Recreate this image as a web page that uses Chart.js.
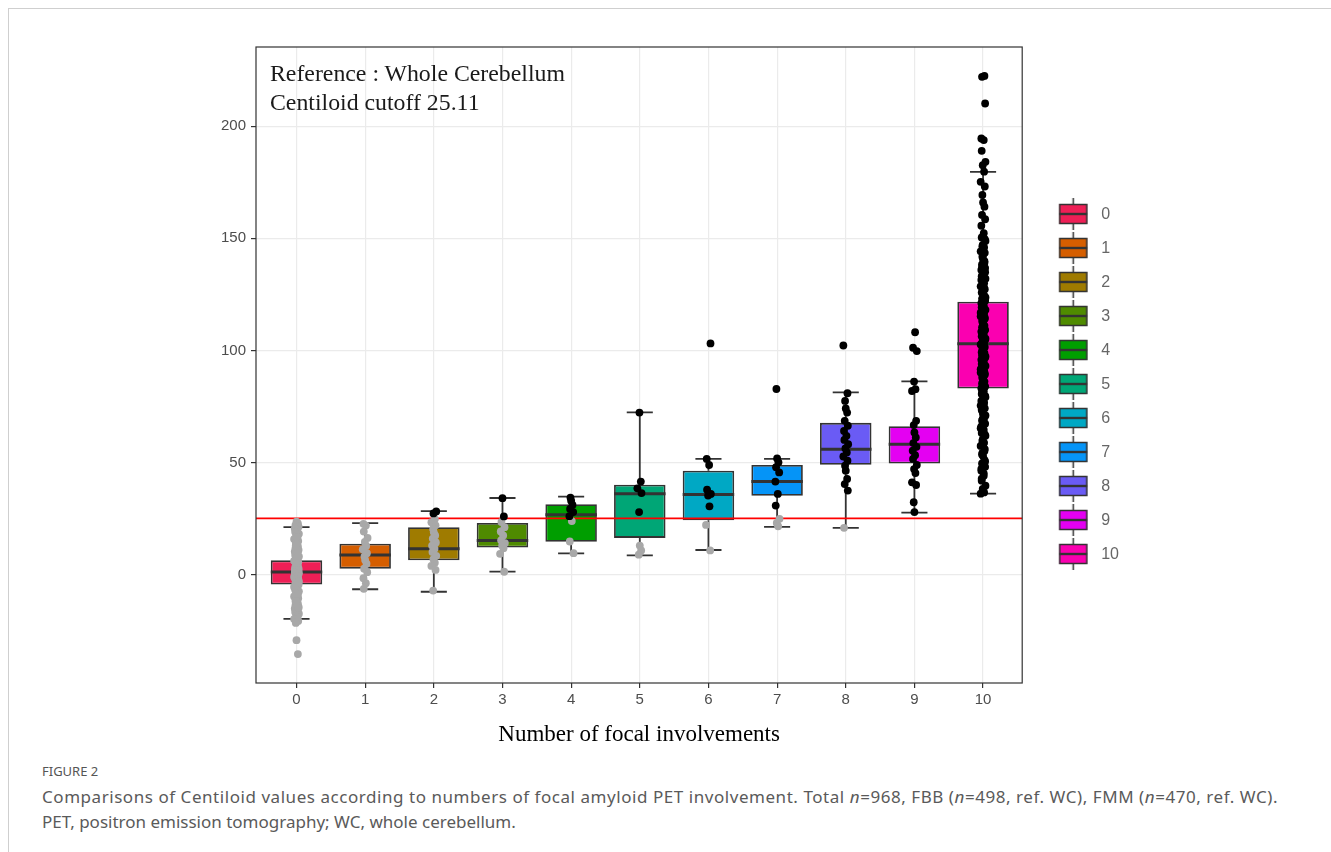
<!DOCTYPE html>
<html>
<head>
<meta charset="utf-8">
<script src="https://cdn.jsdelivr.net/npm/chart.js@4.4.1/dist/chart.umd.min.js"></script>
<style>
  html, body { margin: 0; padding: 0; background: #fff; }
  body { width: 1331px; height: 852px; position: relative; overflow: hidden; font-family: 'Noto Sans', sans-serif; }
  #frame { position: absolute; left: 8px; top: 8px; right: 0; bottom: 0; border-left: 1px solid #cfcfcf; border-top: 1px solid #cfcfcf; }
  #wrap { position: absolute; left: 0; top: 0; width: 1331px; height: 760px; }
  #note { position: absolute; left: 270px; top: 59px; font-family: 'Liberation Serif', serif; font-size: 23.8px; line-height: 29px; color: #1a1a1a; white-space: nowrap; }
  #figlabel { position: absolute; left: 42px; top: 763px; font-size: 13px; line-height: 16px; color: #555; }
  .cap { position: absolute; left: 42px; font-size: 17px; line-height: 25px; color: #5a5a5a; white-space: nowrap; }
</style>
</head>
<body>
<div id="frame"></div>
<div id="wrap"><canvas id="boxChart"></canvas></div>
<div id="note">Reference : Whole Cerebellum<br>Centiloid cutoff 25.11</div>
<div id="figlabel">FIGURE 2</div>
<div class="cap" id="cap1" style="top:784px">Comparisons of Centiloid values according to numbers of focal amyloid PET involvement. Total <i>n</i>=968, FBB (<i>n</i>=498, ref. WC), FMM (<i>n</i>=470, ref. WC).</div>
<div class="cap" id="cap2" style="top:809px">PET, positron emission tomography; WC, whole cerebellum.</div>
<script>
// categories and box statistics
const CATS = [0, 1, 2, 3, 4, 5, 6, 7, 8, 9, 10];
const COLORS = ['#EE1F56', '#D55E00', '#9F7B00', '#4F8B00', '#009E00', '#00A676',
                '#00A8C4', '#0594F7', '#6A5BF5', '#E400F2', '#FA00B0'];
const Q1 = [-4.4, 2.7, 6.4, 12.1, 14.7, 16.4, 24.3, 35.2, 49.0, 49.6, 83.0];
const MEDIAN = [1.2, 8.8, 11.6, 15.2, 26.7, 36.1, 35.7, 41.6, 55.9, 58.2, 103.0];
const Q3 = [6.4, 13.8, 21.2, 23.1, 31.4, 40.1, 46.4, 48.9, 67.7, 66.2, 121.7];
const WHISK_LO = [-19.7, -6.5, -7.6, 1.4, 9.5, 8.6, 11.0, 21.3, 20.9, 27.7, 36.1];
const WHISK_HI = [21.2, 23.0, 28.3, 34.2, 34.8, 72.4, 51.6, 51.6, 81.3, 86.2, 179.6];
const CUTOFF = 25.11;
const Y_TICKS = [0, 50, 100, 150, 200];

// individual Centiloid values per group
const PTS_0 = [23.6, 22.9, 22.1, 21.4, 20.6, 19.8, 19.1, 18.2, 17.4, 16.5, 15.9, 15.0, 14.2, 13.5, 12.7,
  11.8, 11.1, 10.3, 9.6, 8.8, 8.1, 7.4, 6.9, 6.2, 5.6, 5.0, 4.5, 3.9, 3.3, 2.8, 2.2, 1.7, 1.2, 0.6, 0.1,
  -0.4, -1.0, -1.6, -2.1, -2.7, -3.3, -3.9, -4.5, -5.2, -5.9, -6.7, -7.4, -8.2, -9.0, -9.7, -10.5, -11.3,
  -12.0, -12.8, -13.6, -14.3, -15.1, -15.9, -16.6, -17.4, -18.3, -19.1, -19.8, -20.6, -21.5, -29.2, -35.4,
  3.6, 1.9, 0.9, -0.7, -1.9, -3.0, 5.3, 7.8, -5.5, 10.7, 13.1, 16.9, -8.6, -11.7, -14.9];
const PTS_1 = [22.7, 21.9, 19.2, 16.4, 14.6, 12.8, 11.3, 9.6, 8.1, 6.5, 4.9, 2.7, 1.1, -1.6, -3.8, -6.3];
const PTS_2 = [28.2, 27.3, 24.8, 23.4, 22.0, 20.4, 18.9, 17.5, 16.1, 14.4, 13.0, 11.6, 10.1, 8.4, 6.9, 5.3, 3.9, 2.1, -7.1];
const PTS_3 = [34.1, 26.0, 23.5, 21.2, 19.3, 17.5, 15.3, 14.1, 13.0, 11.8, 9.3, 1.3];
const PTS_4 = [34.4, 33.0, 31.1, 29.3, 27.9, 26.1, 23.9, 14.8, 9.6];
const PTS_5 = [72.3, 41.5, 38.5, 36.4, 27.9, 13.0, 10.8, 8.9];
const PTS_6 = [103.1, 51.6, 48.9, 37.9, 36.0, 35.3, 30.5, 22.2, 10.8];
const PTS_7 = [82.8, 51.8, 50.1, 47.9, 45.6, 41.5, 36.0, 30.8, 24.9, 23.1, 21.6];
const PTS_8 = [102.2, 80.9, 77.5, 74.1, 72.3, 68.6, 66.4, 64.1, 61.9, 60.1, 58.2, 56.3, 54.5, 52.7, 50.8,
  48.6, 46.4, 42.7, 40.4, 37.5, 20.9];
const PTS_9 = [108.1, 101.2, 99.7, 86.1, 82.7, 81.9, 68.6, 66.7, 63.4, 61.2, 58.7, 57.0, 55.3, 53.3, 51.6,
  48.9, 47.1, 45.3, 41.2, 40.0, 32.3, 27.9];
const PTS_10 = [222.4, 222.0, 210.1, 194.5, 193.8, 189.0, 184.1, 182.6, 179.7, 175.2, 173.1, 169.3, 166.0,
  164.1, 160.4, 158.5, 155.6, 152.3, 150.4, 148.8, 147.1, 145.9, 144.2, 143.5, 141.8, 140.6, 139.1, 138.4,
  136.7, 135.9, 134.2, 133.1, 132.0, 130.8, 129.9, 128.6, 127.3, 126.5, 125.1, 124.3, 123.0, 122.2, 121.1,
  120.0, 119.2, 118.1, 117.0, 116.3, 115.2, 114.1, 113.3, 112.2, 111.0, 110.3, 109.2, 108.4, 107.1, 106.3,
  105.2, 104.4, 103.3, 102.6, 101.5, 100.7, 99.6, 98.8, 97.7, 96.9, 95.8, 95.0, 93.9, 93.1, 92.0, 91.1,
  90.2, 89.1, 88.3, 87.2, 86.1, 85.3, 84.0, 83.1, 81.8, 80.6, 79.2, 78.1, 76.8, 75.4, 74.2, 72.9, 71.5,
  70.2, 68.8, 67.3, 66.1, 64.6, 63.2, 61.9, 60.3, 58.8, 57.4, 56.0, 54.3, 52.9, 51.2, 49.6, 48.1, 46.3,
  44.1, 41.9, 39.7, 38.2, 36.7, 36.1,
  149.6, 146.4, 142.7, 139.8, 137.2, 134.9, 131.4, 128.2, 125.8, 123.6, 120.5, 118.6, 116.8, 114.6, 112.8,
  110.7, 108.9, 106.8, 104.9, 102.9, 101.1, 99.2, 97.3, 95.5, 93.5, 91.6, 89.7, 87.7, 85.7, 83.6, 81.2,
  79.7, 77.5, 75.9, 73.6, 71.0, 69.5, 67.8, 65.3, 62.6, 59.6, 57.9, 55.1, 53.6, 50.5, 47.2, 45.2, 42.8];
const POINTS = [PTS_0, PTS_1, PTS_2, PTS_3, PTS_4, PTS_5, PTS_6, PTS_7, PTS_8, PTS_9, PTS_10];

// fixed horizontal spread pattern for the dots, in category units
const JITTER = [0, 0.02, -0.015, 0.03, -0.025, 0.01, -0.02, 0.035, -0.005, 0.015, -0.035, 0.025, -0.01];
const CAP = 0.19;     // half width of whisker caps
const HALF_BOX = 0.375;

// build segment data
const whiskerData = [];
const medianData = [];
CATS.forEach((c, i) => {
    whiskerData.push({x: c, y: Q3[i]}, {x: c, y: WHISK_HI[i]}, {x: c, y: null});
    whiskerData.push({x: c, y: Q1[i]}, {x: c, y: WHISK_LO[i]}, {x: c, y: null});
    whiskerData.push({x: c - CAP, y: WHISK_HI[i]}, {x: c + CAP, y: WHISK_HI[i]}, {x: c, y: null});
    whiskerData.push({x: c - CAP, y: WHISK_LO[i]}, {x: c + CAP, y: WHISK_LO[i]}, {x: c, y: null});
    medianData.push({x: c - HALF_BOX, y: MEDIAN[i]}, {x: c + HALF_BOX, y: MEDIAN[i]}, {x: c, y: null});
});

const abovePts = [];
const belowPts = [];
let k = 0;
POINTS.forEach((vals, i) => {
    vals.forEach(v => {
        const p = {x: CATS[i] + JITTER[k % JITTER.length], y: v};
        k++;
        if (v > CUTOFF) abovePts.push(p); else belowPts.push(p);
    });
});

// legend key: small box glyph
function legendGlyph(color) {
    const c = document.createElement('canvas');
    c.width = 44; c.height = 34;
    const g = c.getContext('2d');
    const cx = 28.5;
    g.strokeStyle = '#333';
    g.lineWidth = 1.5;
    g.beginPath();
    g.moveTo(cx, 0); g.lineTo(cx, 6);
    g.moveTo(cx, 26); g.lineTo(cx, 32);
    g.stroke();
    g.fillStyle = color;
    g.fillRect(cx - 14, 6, 28, 20);
    g.strokeRect(cx - 13.5, 6.5, 27, 19);
    g.lineWidth = 2.4;
    g.beginPath();
    g.moveTo(cx - 14, 16); g.lineTo(cx + 14, 16);
    g.stroke();
    return c;
}
const GLYPHS = COLORS.map(legendGlyph);

const panelBorder = {
    id: 'panelBorder',
    afterDatasetsDraw(chart) {
        const {ctx, chartArea: a} = chart;
        ctx.save();
        ctx.strokeStyle = '#333';
        ctx.lineWidth = 1.2;
        ctx.strokeRect(a.left, a.top, a.right - a.left, a.bottom - a.top);
        ctx.restore();
    }
};

const ctx = document.getElementById('boxChart').getContext('2d');
const boxChart = new Chart(ctx, {
    type: 'bar',
    data: {
        datasets: [
            {
                type: 'scatter',
                data: abovePts,
                pointRadius: 3.9,
                pointBackgroundColor: '#000',
                pointBorderWidth: 0
            },
            {
                type: 'scatter',
                data: belowPts,
                pointRadius: 3.9,
                pointBackgroundColor: '#A8A8A8',
                pointBorderWidth: 0
            },
            {
                type: 'line',
                data: [{x: -0.6, y: CUTOFF}, {x: 10.6, y: CUTOFF}],
                borderColor: '#FF0000',
                borderWidth: 1.6,
                pointRadius: 0
            },
            {
                type: 'line',
                data: medianData,
                borderColor: '#333',
                borderWidth: 3,
                borderCapStyle: 'butt',
                pointRadius: 0,
                spanGaps: false
            },
            {
                type: 'line',
                data: whiskerData,
                borderColor: '#333',
                borderWidth: 1.8,
                pointRadius: 0,
                spanGaps: false
            },
            {
                type: 'bar',
                data: CATS.map((c, i) => ({x: c, y: [Q1[i], Q3[i]]})),
                backgroundColor: COLORS,
                borderColor: '#333',
                borderWidth: 1.8,
                borderSkipped: false,
                barPercentage: 0.75,
                categoryPercentage: 1
            }
        ]
    },
    options: {
        responsive: true,
        maintainAspectRatio: false,
        animation: false,
        layout: { padding: { left: 179, top: 47, right: 202, bottom: 7 } },
        scales: {
            x: {
                type: 'linear',
                min: -0.59,
                max: 10.57,
                offset: false,
                afterBuildTicks: s => { s.ticks = CATS.map(v => ({value: v})); },
                afterFit: s => { s.height = 70; },
                grid: { color: '#EBEBEB', lineWidth: 1.2, tickLength: 5, tickColor: '#333', offset: false },
                border: { display: false },
                ticks: { color: '#4D4D4D', font: { family: 'Liberation Sans', size: 15 }, padding: 3, maxRotation: 0 },
                title: {
                    display: true,
                    text: 'Number of focal involvements',
                    color: '#000',
                    font: { family: 'Liberation Serif', size: 23 },
                    padding: { top: 4, bottom: 4 }
                }
            },
            y: {
                min: -48.3,
                max: 235.3,
                afterBuildTicks: s => { s.ticks = Y_TICKS.map(v => ({value: v})); },
                afterFit: s => { s.width = 77; },
                grid: { color: '#EBEBEB', lineWidth: 1.2, tickLength: 5, tickColor: '#333' },
                border: { display: false },
                ticks: { color: '#4D4D4D', font: { family: 'Liberation Sans', size: 15 }, padding: 5 }
            }
        },
        plugins: {
            tooltip: { enabled: false },
            legend: {
                position: 'right',
                fullSize: false,
                onClick: () => {},
                title: { display: true, text: '', font: { size: 10 }, padding: { top: 0, bottom: 28 } },
                labels: {
                    usePointStyle: true,
                    pointStyleWidth: 53,
                    padding: 18,
                    color: '#1a1a1a',
                    font: { family: 'Liberation Sans', size: 16 },
                    generateLabels: () => CATS.map((c, i) => ({
                        text: String(c),
                        pointStyle: GLYPHS[i],
                        fillStyle: COLORS[i],
                        strokeStyle: '#333',
                        lineWidth: 0,
                        hidden: false
                    }))
                }
            }
        }
    },
    plugins: [panelBorder]
});

// stretch caption lines to the width used in the figure
function fitLine(id, target) {
    const el = document.getElementById(id);
    const n = el.textContent.length;
    const w = el.getBoundingClientRect().width;
    el.style.letterSpacing = ((target - w) / n).toFixed(3) + 'px';
}
fitLine('cap1', 1236);
</script>
</body>
</html>
